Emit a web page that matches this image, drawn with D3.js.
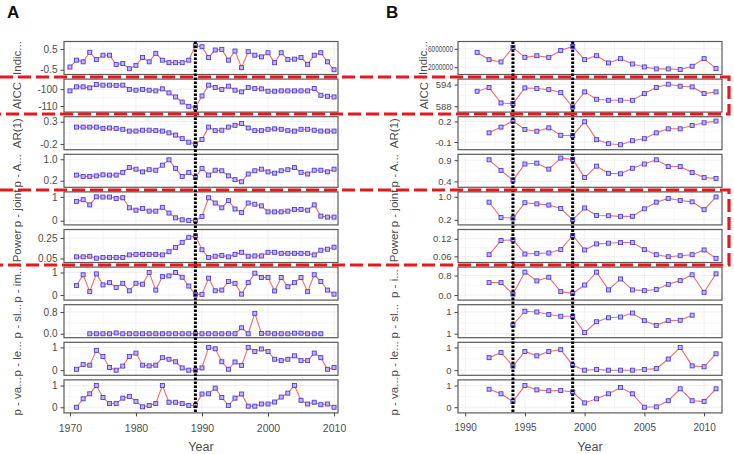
<!DOCTYPE html>
<html><head><meta charset="utf-8">
<script src="https://cdn.jsdelivr.net/npm/d3@7"></script>
<style>body{margin:0;background:#fff;} text{font-family:Arial,"Liberation Sans",sans-serif;}</style>
</head><body><svg id="c" width="734" height="454"></svg>
<script>
// ---------------- DATA ----------------
const yearsA = [1970,1971,1972,1973,1974,1975,1976,1977,1978,1979,1980,1981,1982,1983,1984,1985,1986,1987,1988,1989,1990,1991,1992,1993,1994,1995,1996,1997,1998,1999,2000,2001,2002,2003,2004,2005,2006,2007,2008,2009,2010];
const yearsB = [1991,1992,1993,1994,1995,1996,1997,1998,1999,2000,2001,2002,2003,2004,2005,2006,2007,2008,2009,2010,2011];

const labelsA = ["Indic...","AICC","AR(1)","p - A...","p - joint","Power","p - im...","p - sl...","p - le...","p - va..."];
const labelsB = ["Indic...","AICC","AR(1)","p - A...","p - joint","Power","p - i...","p - sl...","p - le...","p - va..."];

// Panel A series (1970-2010)
const aIndic = [-0.37,-0.04,-0.12,0.34,-0.01,0.20,0.20,-0.25,-0.20,-0.45,-0.29,0.09,-0.12,0.29,-0.04,-0.16,-0.16,-0.16,-0.04,0.66,0.61,0.09,0.45,0.48,-0.04,0.40,-0.40,0.37,0.20,0.12,0.32,-0.16,0.32,-0.01,0.01,0.09,-0.24,0.20,0.32,-0.12,-0.50];
const aAICC = [-101,-98.6,-98.6,-99.2,-97.2,-97.6,-97.6,-97.8,-97.6,-100.2,-100.6,-100.2,-100.6,-101,-99.8,-102.2,-104.6,-107.6,-110.2,-111,-104,-97.6,-99,-100.2,-98.2,-100.6,-101.6,-99,-99.6,-99.8,-101.2,-101.2,-101,-101,-101,-101,-101,-99.6,-103.6,-104.2,-104.6];
const aAR1 = [null,0.18,0.18,0.18,0.18,0.15,0.16,0.15,0.13,0.09,0.09,0.11,0.11,0.10,0.09,0.05,0.00,-0.08,-0.16,-0.20,-0.10,0.18,0.10,0.11,0.18,0.22,0.26,0.16,0.10,0.10,0.13,0.14,0.13,0.10,0.09,0.13,0.13,0.11,0.09,0.09,0.09];
const aPA = [null,0.41,0.36,0.36,0.38,0.42,0.41,0.41,0.51,0.69,0.63,0.53,0.61,0.59,0.78,0.98,0.66,0.36,0.51,0.32,0.66,0.41,0.59,0.57,0.38,0.24,0.16,0.45,0.57,0.63,0.53,0.48,0.57,0.61,0.69,0.51,0.45,0.59,0.59,0.53,0.63];
const aPJoint = [null,0.81,0.88,0.66,1.0,0.99,0.99,0.93,0.96,0.54,0.44,0.51,0.40,0.40,0.56,0.32,0.12,0.04,0.01,0.0,0.18,0.96,0.74,0.54,0.84,0.49,0.34,0.74,0.69,0.62,0.37,0.37,0.37,0.40,0.47,0.47,0.44,0.66,0.19,0.15,0.15];
const aPower = [null,0.066,0.066,0.072,0.053,0.06,0.06,0.06,0.06,0.085,0.09,0.09,0.09,0.09,0.085,0.116,0.158,0.207,0.256,0.27,0.135,0.06,0.072,0.08,0.066,0.09,0.11,0.072,0.075,0.075,0.11,0.11,0.10,0.10,0.10,0.10,0.10,0.085,0.13,0.14,0.16];
const aPIm = [null,0.42,0.90,0.15,0.94,0.45,0.55,0.34,0.52,0.19,0.52,0.48,1.0,0.22,0.82,0.85,1.0,0.79,0.40,0.03,0.03,0.75,0.19,0.22,0.60,0.52,0.04,0.55,0.97,0.78,0.78,0.18,0.78,0.37,0.55,0.78,0.15,0.90,0.60,0.22,0.04];
const aPSl = [null,null,null,0,0,0,0,0.03,0,0,0,0,0,0,0,0,0,0,0,0,0,0,0,0,0,0,0.22,0,0.75,0.01,0.02,0,0,0,0.02,0.02,0,0,0,null,null];
const aPLe = [null,0.04,0.25,0.22,0.87,0.60,0.12,0.0,0.18,0.60,0.75,0.22,0.19,0.22,0.55,0.48,0.37,0.10,0.0,0.0,0.10,1.0,0.94,0.37,0.04,0.36,0.21,1.0,0.82,0.93,0.82,0.48,0.42,0.48,0.63,0.42,0.42,0.75,0.55,0.04,0.12];
const aPVa = [null,0.0,0.39,0.62,1.0,0.45,0.17,0.17,0.42,0.50,0.27,0.02,0.08,0.17,1.0,0.23,0.23,0.17,0.08,0.08,0.61,0.62,0.88,0.45,0.08,0.42,0.61,0.05,0.05,0.15,0.15,0.24,0.47,0.65,1.0,0.32,0.15,0.23,0.12,0.15,0.0];

// Panel B series (1991-2011)
const bIndic = [5210000,3640000,3140000,6290000,4140000,4500000,4140000,5640000,6500000,3640000,4500000,2930000,3860000,2710000,2070000,1640000,1640000,1500000,2210000,3860000,1710000];
const bAICC = [592.15,593.17,588.92,588.74,593.08,592.89,592.61,591.78,587.81,591.97,589.94,589.66,589.66,589.66,591.51,593.17,594.09,593.54,593.35,591.51,591.97];
const bAR1 = [null,0.033,0.117,0.205,0.082,0.057,0.106,-0.002,-0.007,0.195,-0.066,-0.125,-0.140,-0.081,-0.052,0.033,0.092,0.092,0.141,0.180,0.205];
const bPA = [null,0.91,0.66,0.43,0.81,0.83,0.69,0.95,0.92,0.49,0.76,0.59,0.58,0.71,0.81,0.91,0.75,0.75,0.61,0.49,0.47];
const bPJoint = [null,0.81,0.28,0.26,0.79,0.75,0.71,0.59,0.20,0.61,0.35,0.34,0.32,0.32,0.58,0.81,0.94,0.87,0.82,0.55,0.99];
const bPower = [null,0.0658,0.1142,0.1165,0.0681,0.0704,0.0715,0.0831,0.1315,0.0819,0.1027,0.1050,0.1073,0.1073,0.0831,0.0658,0.0588,0.0623,0.0658,0.0819,0.0531];
const bPI = [null,0.51,0.51,0.04,0.94,0.58,0.73,0.14,0.07,0.41,0.94,0.21,0.66,0.21,0.18,0.23,0.44,0.59,0.83,0.11,0.87];
const bPSl = [null,null,null,0.99994,1.00032,1.0003,1.00023,1.00018,1.00018,0.99973,1.00003,1.00014,1.00016,1.00027,1.00006,0.99993,1.00006,1.00007,1.00021,null,null];
const bPLe = [null,0.55,0.78,0.18,0.82,0.63,0.82,0.90,0.22,0.0,0.03,0.0,0.0,0.0,0.03,0.07,0.49,1.0,0.19,0.15,0.72];
const bPVa = [null,0.83,0.62,0.27,1.0,0.80,0.76,0.77,0.70,0.20,0.39,0.62,0.91,0.62,0.0,0.02,0.30,0.85,0.30,0.27,0.85];

// y tick values / labels
const yTicksA = [[-0.5,0.5],[-110,-100],[-0.2,0.3],[0.2,1.0],[0,1],[0.05,0.25],[0,1],[0,0.8],[0,1],[0,1]];
const yTickLabelsA = [["-0.5","0.5"],["-110","-100"],["-0.2","0.3"],["0.2","1.0"],["0","1"],["0.05","0.25"],["0","1"],["0.0","0.8"],["0","1"],["0","1"]];
const yTicksB = [[2000000,6000000],[588,594],[-0.1,0.2],[0.4,0.9],[0.2,1.0],[0.06,0.12],[0,0.8],[0.9997,1.0003],[0,1],[0,1]];
const yTickLabelsB = [["2000000","6000000"],["588","594"],["-0.1","0.2"],["0.4","0.9"],["0.2","1.0"],["0.06","0.12"],["0.0","0.8"],["1","1"],["0","1"],["0","1"]];
const yDomainsA = [[-0.73,0.86],[-113.6,-94],[-0.329,0.414],[-0.046,1.185],[-0.176,1.206],[0.011,0.332],[-0.224,1.24],[-0.145,1.067],[-0.224,1.224],[-0.26,1.26]];
const yDomainsB = [[430000,7570000],[586.4,595.5],[-0.213,0.269],[0.26,1.04],[0.024,1.165],[0.039,0.152],[-0.207,1.145],[0.99959,1.0005],[-0.224,1.224],[-0.26,1.26]];

const xTicksA = [1970,1980,1990,2000,2010];
const xTicksB = [1990,1995,2000,2005,2010];
const breaksA = [1989];
const breaksB = [1994,1999];

// ---------------- DRAW ----------------
const svg = d3.select("#c");
const rowTop0 = 41.5, rowH = 33, rowPitch = 37.6, nRows = 10;
const seriesA = [aIndic,aAICC,aAR1,aPA,aPJoint,aPower,aPIm,aPSl,aPLe,aPVa];
const seriesB = [bIndic,bAICC,bAR1,bPA,bPJoint,bPower,bPI,bPSl,bPLe,bPVa];

const panels = [
  {x0:64,x1:338,xd:[1969.1,2010.6],xt:xTicksA,xstep:5,years:yearsA,series:seriesA,labels:labelsA,yt:yTicksA,ytl:yTickLabelsA,yd:yDomainsA,
   labelX:[17,17,17,17,17,17,17,17,17,17],breaks:breaksA,letter:"A",letterX:7,fs:10,row0Len:null},
  {x0:458,x1:722,xd:[1989.4,2011.5],xt:xTicksB,xstep:2.5,years:yearsB,series:seriesB,labels:labelsB,yt:yTicksB,ytl:yTickLabelsB,yd:yDomainsB,
   labelX:[423,424,394,394,394,394,394,394,394,394],breaks:breaksB,letter:"B",letterX:386,fs:9.5,row0Len:25}
];

panels.forEach(P => {
  const x = d3.scaleLinear().domain(P.xd).range([P.x0,P.x1]);
  const g = svg.append("g");
  g.append("text").attr("x",P.letterX).attr("y",18).attr("font-size",17).attr("font-weight","bold").attr("fill","#111").text(P.letter);
  const xMinor = d3.range(Math.ceil(P.xd[0]/P.xstep)*P.xstep, P.xd[1], P.xstep);
  let lastBottom = 0;
  for (let i=0;i<nRows;i++){
    const top = rowTop0 + i*rowPitch, bot = top + rowH;
    lastBottom = bot;
    const y = d3.scaleLinear().domain(P.yd[i]).range([bot,top]);
    const rg = g.append("g");
    rg.append("rect").attr("x",P.x0).attr("y",top).attr("width",P.x1-P.x0).attr("height",rowH).attr("fill","#fff");
    xMinor.forEach(v=>{
      rg.append("line").attr("x1",x(v)).attr("x2",x(v)).attr("y1",top).attr("y2",bot)
        .attr("stroke", (P.xt.includes(v))?"#e6e6e6":"#f2f2f2").attr("stroke-width",0.6);
    });
    const t = P.yt[i];
    const ygrid = [t[0],(t[0]+t[1])/2,t[1]];
    ygrid.forEach((v,k)=>{
      rg.append("line").attr("x1",P.x0).attr("x2",P.x1).attr("y1",y(v)).attr("y2",y(v))
        .attr("stroke", k===1?"#f2f2f2":"#e6e6e6").attr("stroke-width",0.6);
    });
    const data = P.years.map((yr,k)=>({yr, v:P.series[i][k]})).filter(d=>d.v!==null);
    const line = d3.line().x(d=>x(d.yr)).y(d=>y(d.v));
    rg.append("path").datum(data).attr("d",line).attr("fill","none").attr("stroke","#ef6f6c").attr("stroke-width",1.1);
    rg.selectAll("rect.pt").data(data).enter().append("rect").attr("class","pt")
      .attr("x",d=>x(d.yr)-2).attr("y",d=>y(d.v)-2).attr("width",4).attr("height",4)
      .attr("fill","#c4b3f3").attr("stroke","#4b3fd6").attr("stroke-width",0.9);
    rg.append("rect").attr("x",P.x0).attr("y",top).attr("width",P.x1-P.x0).attr("height",rowH)
      .attr("fill","none").attr("stroke","#5a5a5a").attr("stroke-width",1.2);
    const narrow = (i===0 && P.row0Len);
    const ax = d3.axisLeft(y).tickValues(t).tickFormat((d,k)=>P.ytl[i][k]).tickSize(3.5).tickPadding(narrow?1.5:3);
    const ag = rg.append("g").attr("transform",`translate(${P.x0},0)`).call(ax);
    ag.select(".domain").remove();
    ag.selectAll("line").attr("stroke","#444");
    const tt = ag.selectAll("text").attr("fill","#4d4d4d").attr("font-size", narrow?8.5:P.fs).attr("font-family","Arial,Liberation Sans,sans-serif");
    if (narrow) tt.attr("textLength",P.row0Len).attr("lengthAdjust","spacingAndGlyphs");
    rg.append("text").attr("transform",`translate(${P.labelX[i]},${(top+bot)/2}) rotate(-90)`)
      .attr("text-anchor","middle").attr("dy","0.35em").attr("font-size",11.5).attr("fill","#4d4d4d").text(P.labels[i]);
  }
  const xa = d3.axisBottom(x).tickValues(P.xt).tickFormat(d3.format("d")).tickSize(3.5).tickPadding(8);
  const xg = g.append("g").attr("transform",`translate(0,${lastBottom})`).call(xa);
  xg.select(".domain").remove();
  xg.selectAll("line").attr("stroke","#444");
  xg.selectAll("text").attr("fill","#4d4d4d").attr("font-size",P.fs+0.5).attr("font-family","Arial,Liberation Sans,sans-serif");
  g.append("text").attr("x",(P.x0+P.x1)/2).attr("y",451).attr("text-anchor","middle").attr("font-size",12.5).attr("fill","#4d4d4d").text("Year");
  P.breaks.forEach(b=>{
    g.append("line").attr("x1",x(b)).attr("x2",x(b)).attr("y1",rowTop0).attr("y2",lastBottom)
      .attr("stroke","#000").attr("stroke-width",3).attr("stroke-dasharray","2.5,1.5");
  });
});

// red dashed highlight boxes
const boxes = [[77,114],[190,265]];
boxes.forEach(b=>{
  svg.append("path").attr("d",`M0,${b[0]}H729V${b[1]}H0`).attr("fill","none")
    .attr("stroke","#e3191f").attr("stroke-width",3.2).attr("stroke-dasharray","13,5");
});
</script></body></html>
